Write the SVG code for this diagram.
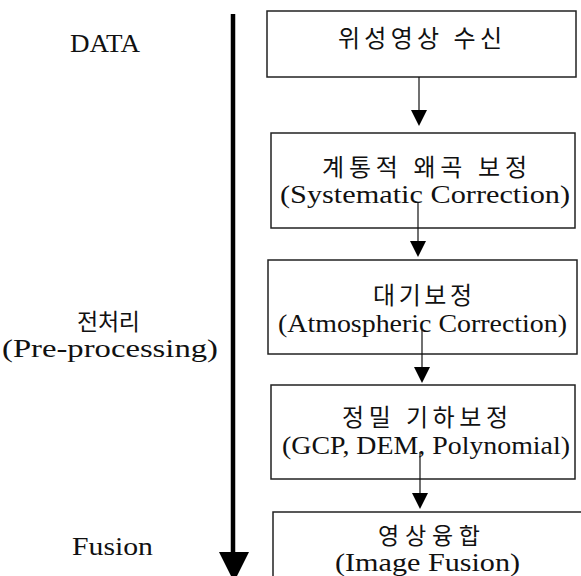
<svg xmlns="http://www.w3.org/2000/svg" width="581" height="576" viewBox="0 0 581 576" font-family="'Liberation Serif', 'Times New Roman', Tinos, 'DejaVu Serif', 'Noto Sans CJK KR', serif">
<style>
.box{fill:#fff;stroke:#222;stroke-width:1.5}
.conn{stroke:#111;stroke-width:1.2;fill:none}
.head{fill:#000}
</style>
<rect width="581" height="576" fill="#fff"/>
<g id="labels" fill="#111">
<text x="70" y="52" font-size="25" textLength="70" lengthAdjust="spacingAndGlyphs">DATA</text>
<text x="77" y="330" font-size="23" textLength="63" lengthAdjust="spacing">전처리</text>
<text x="2" y="357" font-size="25" textLength="216" lengthAdjust="spacingAndGlyphs">(Pre-processing)</text>
<text x="72" y="555" font-size="25" textLength="81" lengthAdjust="spacingAndGlyphs">Fusion</text>
</g>
<g id="timeline">
<line x1="233" y1="14" x2="233" y2="555" stroke="#000" stroke-width="4.5"/>
<polygon class="head" points="219,552 249,552 234,582"/>
</g>
<g id="node1" fill="#111">
<rect class="box" x="267" y="11" width="309" height="66"/>
<text x="338" y="47" font-size="24" textLength="164" lengthAdjust="spacing">위성영상 수신</text>
</g>
<g id="node2" fill="#111">
<rect class="box" x="271" y="133" width="304" height="95"/>
<text x="322" y="176" font-size="24" textLength="205" lengthAdjust="spacing">계통적 왜곡 보정</text>
<text x="280" y="203" font-size="25" textLength="290" lengthAdjust="spacingAndGlyphs">(Systematic Correction)</text>
</g>
<g id="node3" fill="#111">
<rect class="box" x="268" y="260" width="309" height="94"/>
<text x="373" y="304" font-size="24" textLength="99" lengthAdjust="spacing">대기보정</text>
<text x="278" y="332" font-size="25" textLength="289" lengthAdjust="spacingAndGlyphs">(Atmospheric Correction)</text>
</g>
<g id="node4" fill="#111">
<rect class="box" x="271" y="385" width="304" height="94"/>
<text x="342" y="426" font-size="24" textLength="166" lengthAdjust="spacing">정밀 기하보정</text>
<text x="282" y="454" font-size="25" textLength="288" lengthAdjust="spacingAndGlyphs">(GCP, DEM, Polynomial)</text>
</g>
<g id="node5" fill="#111">
<rect class="box" x="273" y="512" width="320" height="80"/>
<text x="378" y="544" font-size="23" textLength="102" lengthAdjust="spacing">영상융합</text>
<text x="335" y="571" font-size="25" textLength="185" lengthAdjust="spacingAndGlyphs">(Image Fusion)</text>
</g>
<g id="connectors">
<line class="conn" x1="419" y1="77" x2="419" y2="112"/>
<polygon class="head" points="411,110 427,110 419,126"/>
<line class="conn" x1="418" y1="203" x2="418" y2="243"/>
<polygon class="head" points="410,241 426,241 418,257"/>
<line class="conn" x1="422" y1="330" x2="422" y2="369"/>
<polygon class="head" points="414,367 430,367 422,383"/>
<line class="conn" x1="420" y1="452" x2="420" y2="495"/>
<polygon class="head" points="412,493 428,493 420,509"/>
</g>
</svg>
